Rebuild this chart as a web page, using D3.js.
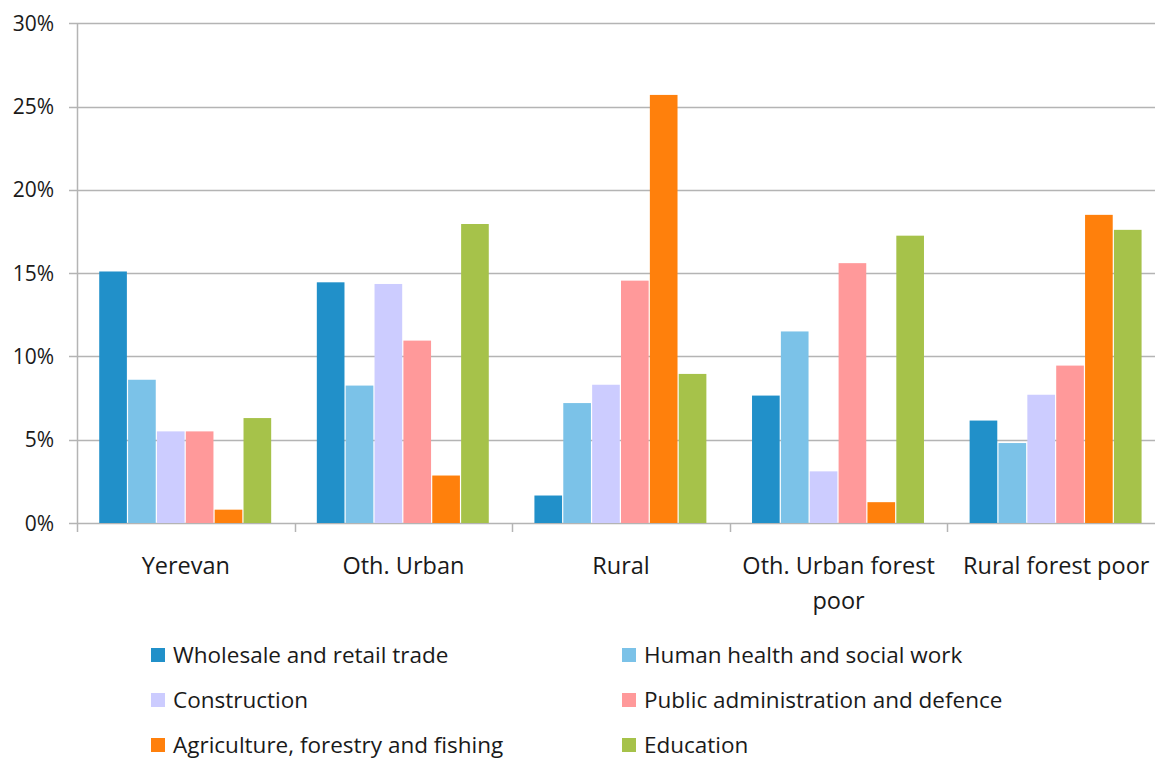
<!DOCTYPE html>
<html>
<head>
<meta charset="utf-8">
<script src="https://cdn.jsdelivr.net/npm/d3@7"></script>
<style>
  html, body { margin: 0; padding: 0; background: #fff; overflow: hidden; }
  svg { display: block; font-family: "Open Sans", sans-serif; }
</style>
</head>
<body>
<svg id="chart" width="1155" height="761"></svg>
<script>
// Employment share by sector and area type
const categories = ["Yerevan", "Oth. Urban", "Rural", "Oth. Urban forest poor", "Rural forest poor"];
const sectors = [
  "Wholesale and retail trade",
  "Human health and social work",
  "Construction",
  "Public administration and defence",
  "Agriculture, forestry and fishing",
  "Education"
];
const wholesale    = [15.1, 14.45, 1.65, 7.65, 6.15];
const health       = [8.6, 8.25, 7.2, 11.5, 4.8];
const construction = [5.5, 14.35, 8.3, 3.1, 7.7];
const publicAdmin  = [5.5, 10.95, 14.55, 15.6, 9.45];
const agriculture  = [0.8, 2.85, 25.7, 1.25, 18.5];
const education    = [6.3, 17.95, 8.95, 17.25, 17.6];
const yTicks = [0, 5, 10, 15, 20, 25, 30];
const colors = ["#2190C9", "#7BC2E8", "#CCCCFF", "#FF999A", "#FF800C", "#A6C24A"];

const seriesValues = [wholesale, health, construction, publicAdmin, agriculture, education];

const svg = d3.select("#chart");
const plot = { left: 77, top: 23.3, bottom: 523, step: 217.6 };

const x0 = d3.scaleBand()
  .domain(categories)
  .range([plot.left, plot.left + plot.step * categories.length])
  .paddingInner(0).paddingOuter(0);

const x1 = d3.scaleBand()
  .domain(sectors)
  .range([0, x0.bandwidth()])
  .paddingInner(0).paddingOuter(0.77);

const y = d3.scaleLinear().domain([0, 30]).range([plot.bottom, plot.top]);
const color = d3.scaleOrdinal().domain(sectors).range(colors);

// horizontal gridlines
svg.append("g")
  .selectAll("line")
  .data(yTicks)
  .join("line")
  .attr("x1", plot.left - 8)
  .attr("x2", 1155)
  .attr("y1", d => Math.round(y(d)) + 0.5)
  .attr("y2", d => Math.round(y(d)) + 0.5)
  .attr("stroke", "#B4B4B4")
  .attr("stroke-width", 1.5);

// y axis labels
svg.append("g")
  .selectAll("text")
  .data(yTicks)
  .join("text")
  .attr("x", 54)
  .attr("y", d => y(d))
  .attr("dy", "0.36em")
  .attr("text-anchor", "end")
  .attr("font-size", 21)
  .attr("fill", "#1a1a1a")
  .text(d => d + "%");

// vertical axis line
svg.append("line")
  .attr("x1", plot.left + 0.5).attr("x2", plot.left + 0.5)
  .attr("y1", plot.top).attr("y2", plot.bottom + 9)
  .attr("stroke", "#B4B4B4").attr("stroke-width", 1.5);

// category boundary ticks
svg.append("g")
  .selectAll("line")
  .data(categories.slice(1))
  .join("line")
  .attr("x1", d => Math.round(x0(d)) + 0.5)
  .attr("x2", d => Math.round(x0(d)) + 0.5)
  .attr("y1", plot.bottom)
  .attr("y2", plot.bottom + 9)
  .attr("stroke", "#B4B4B4").attr("stroke-width", 1.5);

// bars
const groups = svg.append("g")
  .selectAll("g")
  .data(categories)
  .join("g")
  .attr("transform", d => `translate(${x0(d)},0)`);

groups.selectAll("rect")
  .data((c, ci) => sectors.map((s, si) => ({ sector: s, value: seriesValues[si][ci] })))
  .join("rect")
  .attr("x", d => x1(d.sector))
  .attr("width", x1.bandwidth() - 1.2)
  .attr("y", d => y(d.value))
  .attr("height", d => y(0) - y(d.value))
  .attr("fill", d => color(d.sector));

// category labels, wrapped to the band width
const catLabels = svg.append("g")
  .selectAll("text")
  .data(categories)
  .join("text")
  .attr("x", d => x0(d) + x0.bandwidth() / 2)
  .attr("y", 574)
  .attr("text-anchor", "middle")
  .attr("font-size", 23.5)
  .attr("fill", "#1a1a1a");

catLabels.each(function(d) {
  const t = d3.select(this);
  const words = d.split(" ");
  const maxW = x0.bandwidth() - 4;
  let line = [];
  let lineNo = 0;
  let tspan = t.append("tspan").attr("x", t.attr("x")).attr("dy", 0);
  words.forEach(w => {
    line.push(w);
    tspan.text(line.join(" "));
    if (tspan.node().getComputedTextLength() > maxW && line.length > 1) {
      line.pop();
      tspan.text(line.join(" "));
      line = [w];
      lineNo++;
      tspan = t.append("tspan").attr("x", t.attr("x")).attr("dy", 35).text(w);
    }
  });
});

// legend, two columns by three rows
const legendCols = [151, 622];
const legendRows = [655, 700, 745];
const legend = svg.append("g")
  .selectAll("g")
  .data(sectors)
  .join("g")
  .attr("transform", (d, i) => `translate(${legendCols[i % 2]},${legendRows[Math.floor(i / 2)]})`);

legend.append("rect")
  .attr("x", 0).attr("y", -7)
  .attr("width", 14).attr("height", 14)
  .attr("fill", d => color(d));

legend.append("text")
  .attr("x", 22)
  .attr("y", 0)
  .attr("dy", "0.36em")
  .attr("font-size", 22.5)
  .attr("fill", "#1a1a1a")
  .text(d => d);
</script>
</body>
</html>
